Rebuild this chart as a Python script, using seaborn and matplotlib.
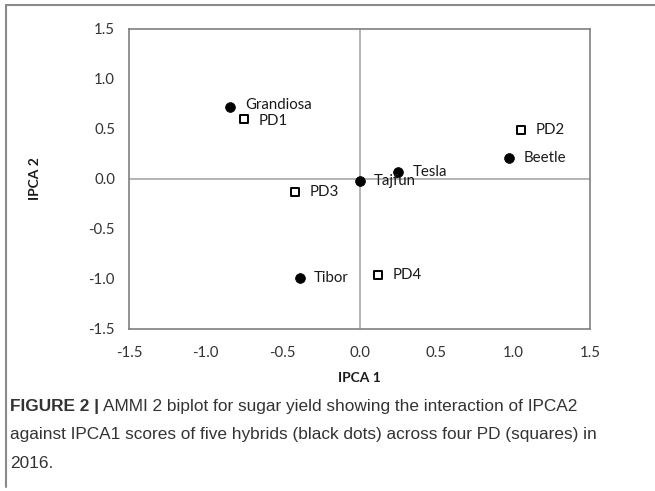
import matplotlib
matplotlib.use("Agg")
import matplotlib.pyplot as plt
import seaborn as sns
import pandas as pd
from matplotlib.lines import Line2D

# ---- data ----
names = ["Grandiosa", "Beetle", "Tesla", "Tajfun", "Tibor", "PD1", "PD2", "PD3", "PD4"]
ipca1 = [-0.84, 0.97, 0.25, 0.00, -0.39, -0.75, 1.05, -0.42, 0.12]
ipca2 = [0.72, 0.21, 0.07, -0.02, -0.99, 0.60, 0.49, -0.13, -0.96]
kinds = ["Hybrid", "Hybrid", "Hybrid", "Hybrid", "Hybrid", "PD", "PD", "PD", "PD"]
x_ticks = [-1.5, -1.0, -0.5, 0.0, 0.5, 1.0, 1.5]
y_ticks = [-1.5, -1.0, -0.5, 0.0, 0.5, 1.0, 1.5]

df = pd.DataFrame({"name": names, "IPCA1": ipca1, "IPCA2": ipca2, "kind": kinds})

sns.set_theme(style="white")
plt.rcParams["font.family"] = ["Lato", "DejaVu Sans"]

fig = plt.figure(figsize=(6.55, 4.91), dpi=100)
ax = fig.add_axes([129 / 655, 1 - 329 / 491, (590 - 129) / 655, (329 - 29) / 491])

# zero lines
ax.axhline(0, color="#a8a8a8", lw=1.2, zorder=1)
ax.axvline(0, color="#a8a8a8", lw=1.2, zorder=1)

sns.scatterplot(data=df[df.kind == "Hybrid"], x="IPCA1", y="IPCA2", ax=ax,
                marker="o", s=50, color="black", edgecolor="black", linewidth=0.5,
                zorder=3, legend=False)
sns.scatterplot(data=df[df.kind == "PD"], x="IPCA1", y="IPCA2", ax=ax,
                marker="s", s=40, facecolor="white", edgecolor="black", linewidth=1.4,
                zorder=3, legend=False)

# small vertical nudges (points) for label legibility
nudge = {"Grandiosa": 1.5, "PD1": -1.5}
for _, r in df.iterrows():
    ax.annotate(r["name"], (r["IPCA1"], r["IPCA2"]),
                xytext=(10.5, nudge.get(r["name"], 0)),
                textcoords="offset points", va="center", ha="left",
                fontsize=10.8, color="#1a1a1a", zorder=4)

ax.set_xlim(-1.5, 1.5)
ax.set_ylim(-1.5, 1.5)
ax.set_xticks(x_ticks)
ax.set_yticks(y_ticks)
ax.set_xticklabels([f"{v:.1f}" for v in x_ticks])
ax.set_yticklabels([f"{v:.1f}" for v in y_ticks])
ax.tick_params(axis="both", length=0, labelsize=10.8, colors="#333333")
ax.tick_params(axis="x", pad=12)
ax.tick_params(axis="y", pad=10)
for s in ax.spines.values():
    s.set_color("#7f7f7f")
    s.set_linewidth(1.2)
ax.set_xlabel("IPCA 1", fontsize=10, fontweight="bold", color="#1a1a1a", labelpad=9)
ax.set_ylabel("IPCA 2", fontsize=10, fontweight="bold", color="#1a1a1a", labelpad=34)

# outer frame (top and left)
fig.add_artist(Line2D([6 / 655, 6 / 655], [1 - 5 / 491, 1 - 487 / 491],
                      transform=fig.transFigure, color="#8a8a8a", lw=1.5))
fig.add_artist(Line2D([6 / 655, 1.0], [1 - 5 / 491, 1 - 5 / 491],
                      transform=fig.transFigure, color="#8a8a8a", lw=1.5))

# caption
cap_font = ["Liberation Sans", "DejaVu Sans"]
cap_color = "#333333"
cap_size = 12.4
x0 = 10 / 655
y1 = 1 - 406 / 491
t_bold = fig.text(x0, y1, "FIGURE 2 |", fontsize=cap_size, fontweight="bold",
                  family=cap_font, color=cap_color, va="center", ha="left")
fig.canvas.draw()
bb = t_bold.get_window_extent(fig.canvas.get_renderer())
x_after = (bb.x1 + 4) / fig.bbox.width
fig.text(x_after, y1, "AMMI 2 biplot for sugar yield showing the interaction of IPCA2",
         fontsize=cap_size, family=cap_font, color=cap_color, va="center", ha="left")
fig.text(x0, 1 - 435 / 491,
         "against IPCA1 scores of five hybrids (black dots) across four PD (squares) in",
         fontsize=cap_size, family=cap_font, color=cap_color, va="center", ha="left")
fig.text(x0, 1 - 464 / 491, "2016.", fontsize=cap_size, family=cap_font,
         color=cap_color, va="center", ha="left")

fig.savefig("out.png", dpi=100)
